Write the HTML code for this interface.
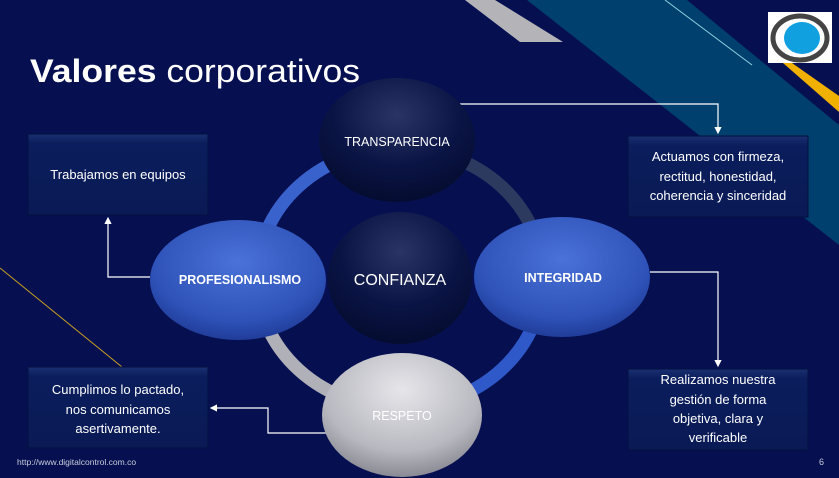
<!DOCTYPE html>
<html><head><meta charset="utf-8"><style>
html,body{margin:0;padding:0;background:#061050;}
svg{display:block;font-family:"Liberation Sans",sans-serif;}
</style></head><body>
<svg width="839" height="478" viewBox="0 0 839 478" xmlns="http://www.w3.org/2000/svg">
<defs>
<radialGradient id="dark" cx="50%" cy="30%" r="70%"><stop offset="0" stop-color="#2a3566"/><stop offset="0.6" stop-color="#0a1444"/><stop offset="1" stop-color="#050c30"/></radialGradient>
<radialGradient id="blue" cx="50%" cy="35%" r="70%"><stop offset="0" stop-color="#4a72d8"/><stop offset="0.7" stop-color="#2e52b8"/><stop offset="1" stop-color="#1c3690"/></radialGradient>
<radialGradient id="gray" cx="50%" cy="30%" r="70%"><stop offset="0" stop-color="#e6e6ea"/><stop offset="0.7" stop-color="#b8b8c0"/><stop offset="1" stop-color="#8a8a94"/></radialGradient>
<linearGradient id="box" x1="0" y1="0" x2="0" y2="1"><stop offset="0" stop-color="#1a3070"/><stop offset="0.12" stop-color="#0b1d5c"/><stop offset="1" stop-color="#0a1a55"/></linearGradient>
<marker id="ar" markerWidth="6" markerHeight="6" refX="5" refY="3" orient="auto"><path d="M0,0 L6,3 L0,6z" fill="#fff"/></marker>
</defs>
<rect width="839" height="478" fill="#061050"/>
<polygon points="527,0 687,0 839,125 839,245" fill="#00406e"/>
<polygon points="465,0 495,0 563,42 520,42" fill="#b4b4b8"/>
<polygon points="783,63 792,63 839,96 839,112" fill="#f0b000"/>
<line x1="665" y1="0" x2="752" y2="65" stroke="#8ad0e0" stroke-width="1"/>
<line x1="0" y1="268" x2="122" y2="367" stroke="#c8a020" stroke-width="1"/>
<rect x="768" y="12" width="64" height="51" fill="#fff"/>
<ellipse cx="800" cy="38" rx="27" ry="22" fill="none" stroke="#444" stroke-width="5"/>
<ellipse cx="802" cy="38" rx="18" ry="16" fill="#10a0e0"/>
<text x="30" y="82" font-size="32" fill="#fff" textLength="330" lengthAdjust="spacingAndGlyphs"><tspan font-weight="bold">Valores</tspan> corporativos</text>
<path d="M257,278 A143,130 0 0 1 400,148" fill="none" stroke="#3a62cc" stroke-width="13"/>
<path d="M400,148 A143,130 0 0 1 543,278" fill="none" stroke="#2c3a60" stroke-width="13"/>
<path d="M543,278 A143,130 0 0 1 400,408" fill="none" stroke="#2f58c8" stroke-width="13"/>
<path d="M400,408 A143,130 0 0 1 257,278" fill="none" stroke="#b0b0b8" stroke-width="13"/>
<polyline points="458,104 718,104 718,133" fill="none" stroke="#fff" stroke-width="1.2" marker-end="url(#ar)"/>
<polyline points="650,272 718,272 718,366" fill="none" stroke="#fff" stroke-width="1.2" marker-end="url(#ar)"/>
<polyline points="150,277 108,277 108,218" fill="none" stroke="#fff" stroke-width="1.2" marker-end="url(#ar)"/>
<polyline points="330,433 268,433 268,408 211,408" fill="none" stroke="#fff" stroke-width="1.2" marker-end="url(#ar)"/>
<ellipse cx="397" cy="140" rx="78" ry="62" fill="url(#dark)"/>
<ellipse cx="400" cy="278" rx="72" ry="66" fill="url(#dark)"/>
<ellipse cx="238" cy="280" rx="88" ry="60" fill="url(#blue)"/>
<ellipse cx="562" cy="277" rx="88" ry="60" fill="url(#blue)"/>
<ellipse cx="402" cy="415" rx="80" ry="62" fill="url(#gray)"/>
<g fill="#fff" text-anchor="middle" font-size="12.5">
<text x="397" y="146">TRANSPARENCIA</text>
<text x="400" y="285" font-size="16">CONFIANZA</text>
<text x="240" y="284" font-weight="bold">PROFESIONALISMO</text>
<text x="563" y="282" font-weight="bold">INTEGRIDAD</text>
<text x="402" y="420">RESPETO</text>
</g>
<g fill="url(#box)" stroke="#041040" stroke-width="1">
<rect x="28" y="134" width="180" height="81"/>
<rect x="28" y="367" width="180" height="81"/>
<rect x="628" y="136" width="180" height="81"/>
<rect x="628" y="369" width="180" height="81"/>
</g>
<g fill="#fff" text-anchor="middle" font-size="13">
<text x="118" y="179">Trabajamos en equipos</text>
<text x="118" y="394">Cumplimos lo pactado,</text>
<text x="118" y="414">nos comunicamos</text>
<text x="118" y="433">asertivamente.</text>
<text x="718" y="161">Actuamos con firmeza,</text>
<text x="718" y="181">rectitud, honestidad,</text>
<text x="718" y="200">coherencia y sinceridad</text>
<text x="718" y="384">Realizamos nuestra</text>
<text x="718" y="404">gestión de forma</text>
<text x="718" y="423">objetiva, clara y</text>
<text x="718" y="442">verificable</text>
</g>
<text x="17" y="465" font-size="8.5" fill="#c8ccdc">http://www.digitalcontrol.com.co</text>
<text x="819" y="465" font-size="9" fill="#c8ccdc">6</text>
</svg>
</body></html>
